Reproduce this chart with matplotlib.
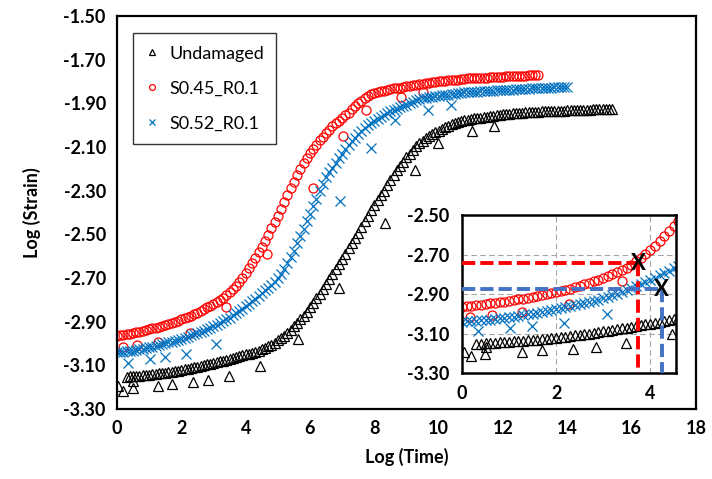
import numpy as np
import matplotlib
matplotlib.use('Agg')
import matplotlib.pyplot as plt

plt.rcParams['font.family'] = ['Lato', 'DejaVu Sans']

OUT_PATH = 'out.png'

LABELS = ['Undamaged', 'S0.45_R0.1', 'S0.52_R0.1']
COLORS = ['#000000', '#FF0000', '#0070C0']
MARKERS = ['^', 'o', 'x']

# log(time) sampled every 0.1, starting at these values
T0 = [0.3, 0.0, 0.0]
DT = 0.1

undamaged = [
    -3.152, -3.151, -3.150, -3.148, -3.147, -3.145, -3.144, -3.142, -3.140, -3.138,
    -3.137, -3.135, -3.133, -3.131, -3.129, -3.127, -3.125, -3.122, -3.119, -3.116,
    -3.112, -3.109, -3.106, -3.103, -3.100, -3.096, -3.092, -3.089, -3.085, -3.082,
    -3.078, -3.074, -3.070, -3.066, -3.062, -3.058, -3.054, -3.050, -3.046, -3.042,
    -3.037, -3.032, -3.026, -3.019, -3.012, -3.005, -2.996, -2.986, -2.976, -2.965,
    -2.953, -2.938, -2.922, -2.906, -2.890, -2.873, -2.856, -2.835, -2.814, -2.793,
    -2.773, -2.752, -2.729, -2.705, -2.681, -2.658, -2.635, -2.611, -2.588, -2.564,
    -2.541, -2.517, -2.493, -2.467, -2.440, -2.414, -2.389, -2.366, -2.344, -2.322,
    -2.300, -2.276, -2.252, -2.229, -2.207, -2.186, -2.167, -2.148, -2.130, -2.113,
    -2.097, -2.082, -2.071, -2.061, -2.051, -2.042, -2.033, -2.025, -2.017, -2.009,
    -2.002, -1.996, -1.991, -1.986, -1.982, -1.978, -1.975, -1.972, -1.969, -1.967,
    -1.965, -1.963, -1.961, -1.958, -1.956, -1.954, -1.952, -1.950, -1.949, -1.947,
    -1.946, -1.944, -1.943, -1.942, -1.941, -1.940, -1.940, -1.939, -1.938, -1.937,
    -1.936, -1.936, -1.935, -1.934, -1.934, -1.933, -1.933, -1.932, -1.932, -1.931,
    -1.931, -1.930, -1.930, -1.929, -1.929, -1.928, -1.928, -1.927, -1.927, -1.926,
    -1.926, -1.925,
]

s045 = [
    -2.966, -2.963, -2.961, -2.958, -2.955, -2.952, -2.948, -2.945, -2.942, -2.938,
    -2.935, -2.931, -2.927, -2.923, -2.919, -2.914, -2.910, -2.905, -2.900, -2.895,
    -2.890, -2.885, -2.880, -2.873, -2.866, -2.859, -2.851, -2.843, -2.835, -2.827,
    -2.818, -2.809, -2.800, -2.790, -2.780, -2.766, -2.751, -2.735, -2.717, -2.698,
    -2.678, -2.656, -2.632, -2.607, -2.582, -2.556, -2.530, -2.502, -2.473, -2.444,
    -2.415, -2.383, -2.351, -2.319, -2.288, -2.258, -2.229, -2.200, -2.174, -2.150,
    -2.128, -2.108, -2.089, -2.070, -2.053, -2.037, -2.021, -2.006, -1.992, -1.979,
    -1.966, -1.954, -1.942, -1.928, -1.914, -1.900, -1.888, -1.877, -1.867, -1.858,
    -1.853, -1.849, -1.845, -1.842, -1.838, -1.835, -1.832, -1.830, -1.828, -1.825,
    -1.822, -1.820, -1.817, -1.815, -1.812, -1.810, -1.808, -1.805, -1.803, -1.800,
    -1.799, -1.797, -1.796, -1.795, -1.794, -1.792, -1.791, -1.789, -1.788, -1.786,
    -1.785, -1.784, -1.784, -1.783, -1.782, -1.782, -1.781, -1.780, -1.779, -1.779,
    -1.778, -1.777, -1.776, -1.776, -1.775, -1.774, -1.774, -1.773, -1.772, -1.771,
    -1.771, -1.770,
]

s052 = [
    -3.040, -3.039, -3.037, -3.036, -3.034, -3.032, -3.030, -3.027, -3.024, -3.021,
    -3.018, -3.015, -3.011, -3.007, -3.003, -2.999, -2.995, -2.991, -2.987, -2.983,
    -2.978, -2.973, -2.968, -2.963, -2.958, -2.952, -2.947, -2.941, -2.935, -2.928,
    -2.921, -2.913, -2.906, -2.898, -2.890, -2.881, -2.871, -2.861, -2.851, -2.841,
    -2.830, -2.818, -2.806, -2.794, -2.782, -2.770, -2.757, -2.744, -2.730, -2.716,
    -2.701, -2.683, -2.659, -2.632, -2.604, -2.574, -2.541, -2.508, -2.474, -2.440,
    -2.406, -2.372, -2.338, -2.303, -2.269, -2.238, -2.216, -2.194, -2.172, -2.151,
    -2.130, -2.110, -2.092, -2.074, -2.057, -2.040, -2.026, -2.013, -2.001, -1.990,
    -1.980, -1.971, -1.962, -1.954, -1.946, -1.937, -1.931, -1.925, -1.919, -1.913,
    -1.906, -1.900, -1.894, -1.887, -1.880, -1.877, -1.875, -1.872, -1.870, -1.868,
    -1.866, -1.864, -1.862, -1.860, -1.858, -1.856, -1.854, -1.852, -1.850, -1.849,
    -1.848, -1.847, -1.846, -1.845, -1.844, -1.843, -1.843, -1.842, -1.841, -1.841,
    -1.840, -1.839, -1.838, -1.837, -1.836, -1.836, -1.835, -1.834, -1.833, -1.832,
    -1.832, -1.831, -1.830, -1.829, -1.828, -1.828, -1.827, -1.826, -1.826, -1.825,
    -1.825,
]

# scattered readings that sit off the main trend
undamaged_extra_t = [0.04, 0.2, 0.49, 0.5, 1.28, 1.70, 2.37, 2.84, 3.49, 4.46, 5.63, 6.90, 8.32, 9.25, 9.97, 11.04, 11.71]
undamaged_extra = [-3.193, -3.216, -3.204, -3.17, -3.193, -3.186, -3.178, -3.166, -3.148, -3.102, -2.98, -2.748, -2.447, -2.204, -2.082, -2.028, -2.006]
s045_extra_t = [0.18, 0.63, 1.28, 2.27, 3.40, 4.65, 6.09, 7.02, 7.75, 8.84, 9.51]
s045_extra = [-3.018, -3.007, -2.992, -2.95, -2.835, -2.592, -2.287, -2.051, -1.929, -1.871, -1.849]
s052_extra_t = [0.35, 1.02, 1.49, 2.16, 3.09, 6.92, 7.90, 8.63, 9.66, 10.39]
s052_extra = [-3.087, -3.071, -3.064, -3.049, -3.003, -2.348, -2.104, -1.975, -1.929, -1.907]

# marked points in the zoomed view (log time, log strain)
MARK_T = [3.75, 4.25]
MARK_S = [-2.745, -2.875]
MARK_COLORS = ['#FF0000', '#4472C4']

SERIES = [
    (undamaged, undamaged_extra_t, undamaged_extra),
    (s045, s045_extra_t, s045_extra),
    (s052, s052_extra_t, s052_extra),
]


def draw_series(ax, ms=6.5, label=True):
    for i, (vals, et, ev) in enumerate(SERIES):
        t = T0[i] + DT * np.arange(len(vals))
        t = np.concatenate([t, et])
        v = np.concatenate([vals, ev])
        kw = dict(linestyle='none', marker=MARKERS[i], markersize=ms,
                  markeredgewidth=0.9, color=COLORS[i])
        if MARKERS[i] != 'x':
            kw['markerfacecolor'] = 'none'
        ax.plot(t, v, label=LABELS[i] if label else None, **kw)


fig = plt.figure(figsize=(7.12, 4.79), dpi=100)
ax = fig.add_axes([0.1643, 0.1461, 0.8132, 0.8205])
draw_series(ax)
ax.set_xlim(0, 18)
ax.set_ylim(-3.3, -1.5)
ax.set_xticks(np.arange(0, 19, 2))
ax.set_yticks(np.arange(-3.3, -1.49, 0.2))
ax.set_yticklabels(['%.2f' % v for v in np.arange(-3.3, -1.49, 0.2)])
ax.tick_params(length=0, labelsize=13, pad=8)
for lab in ax.get_xticklabels() + ax.get_yticklabels():
    lab.set_fontweight('bold')
for sp in ax.spines.values():
    sp.set_linewidth(1.6)
ax.set_xlabel('Log (Time)', fontsize=13, fontweight='bold', labelpad=8)
ax.set_ylabel('Log (Strain)', fontsize=13, fontweight='bold', labelpad=16)

leg = ax.legend(loc='upper left', bbox_to_anchor=(0.0276, 0.957), borderaxespad=0,
                fontsize=13, markerscale=0.65, handlelength=0.7, handletextpad=0.6,
                labelspacing=1.05, borderpad=0.7, fancybox=False, frameon=True)
leg.get_frame().set_edgecolor('black')
leg.get_frame().set_linewidth(1.0)

# zoomed view of the early-time region
ax_in = fig.add_axes([0.6489, 0.2213, 0.3005, 0.3298])
ax_in.grid(True, color='#A6A6A6', linestyle=(0, (5, 3)), linewidth=0.8)
ax_in.set_axisbelow(True)
draw_series(ax_in, label=False)
ax_in.set_xlim(0, 4.55)
ax_in.set_ylim(-3.3, -2.5)
ax_in.set_xticks([0, 2, 4])
ax_in.set_yticks([-3.3, -3.1, -2.9, -2.7, -2.5])
ax_in.set_yticklabels(['%.2f' % v for v in [-3.3, -3.1, -2.9, -2.7, -2.5]])
ax_in.tick_params(length=0, labelsize=13, pad=9)
for lab in ax_in.get_xticklabels() + ax_in.get_yticklabels():
    lab.set_fontweight('bold')
for sp in ax_in.spines.values():
    sp.set_linewidth(1.8)

for t, s, c in zip(MARK_T, MARK_S, MARK_COLORS):
    ax_in.plot([0, t], [s, s], color=c, linewidth=2.8, dashes=(3.4, 1.3), zorder=5)
    ax_in.plot([t, t], [s, -3.3], color=c, linewidth=2.8, dashes=(3.4, 1.3), zorder=5)
    ax_in.text(t, s, 'X', fontsize=16, fontweight='bold', ha='center', va='center', zorder=6)

fig.savefig(OUT_PATH, dpi=100)
